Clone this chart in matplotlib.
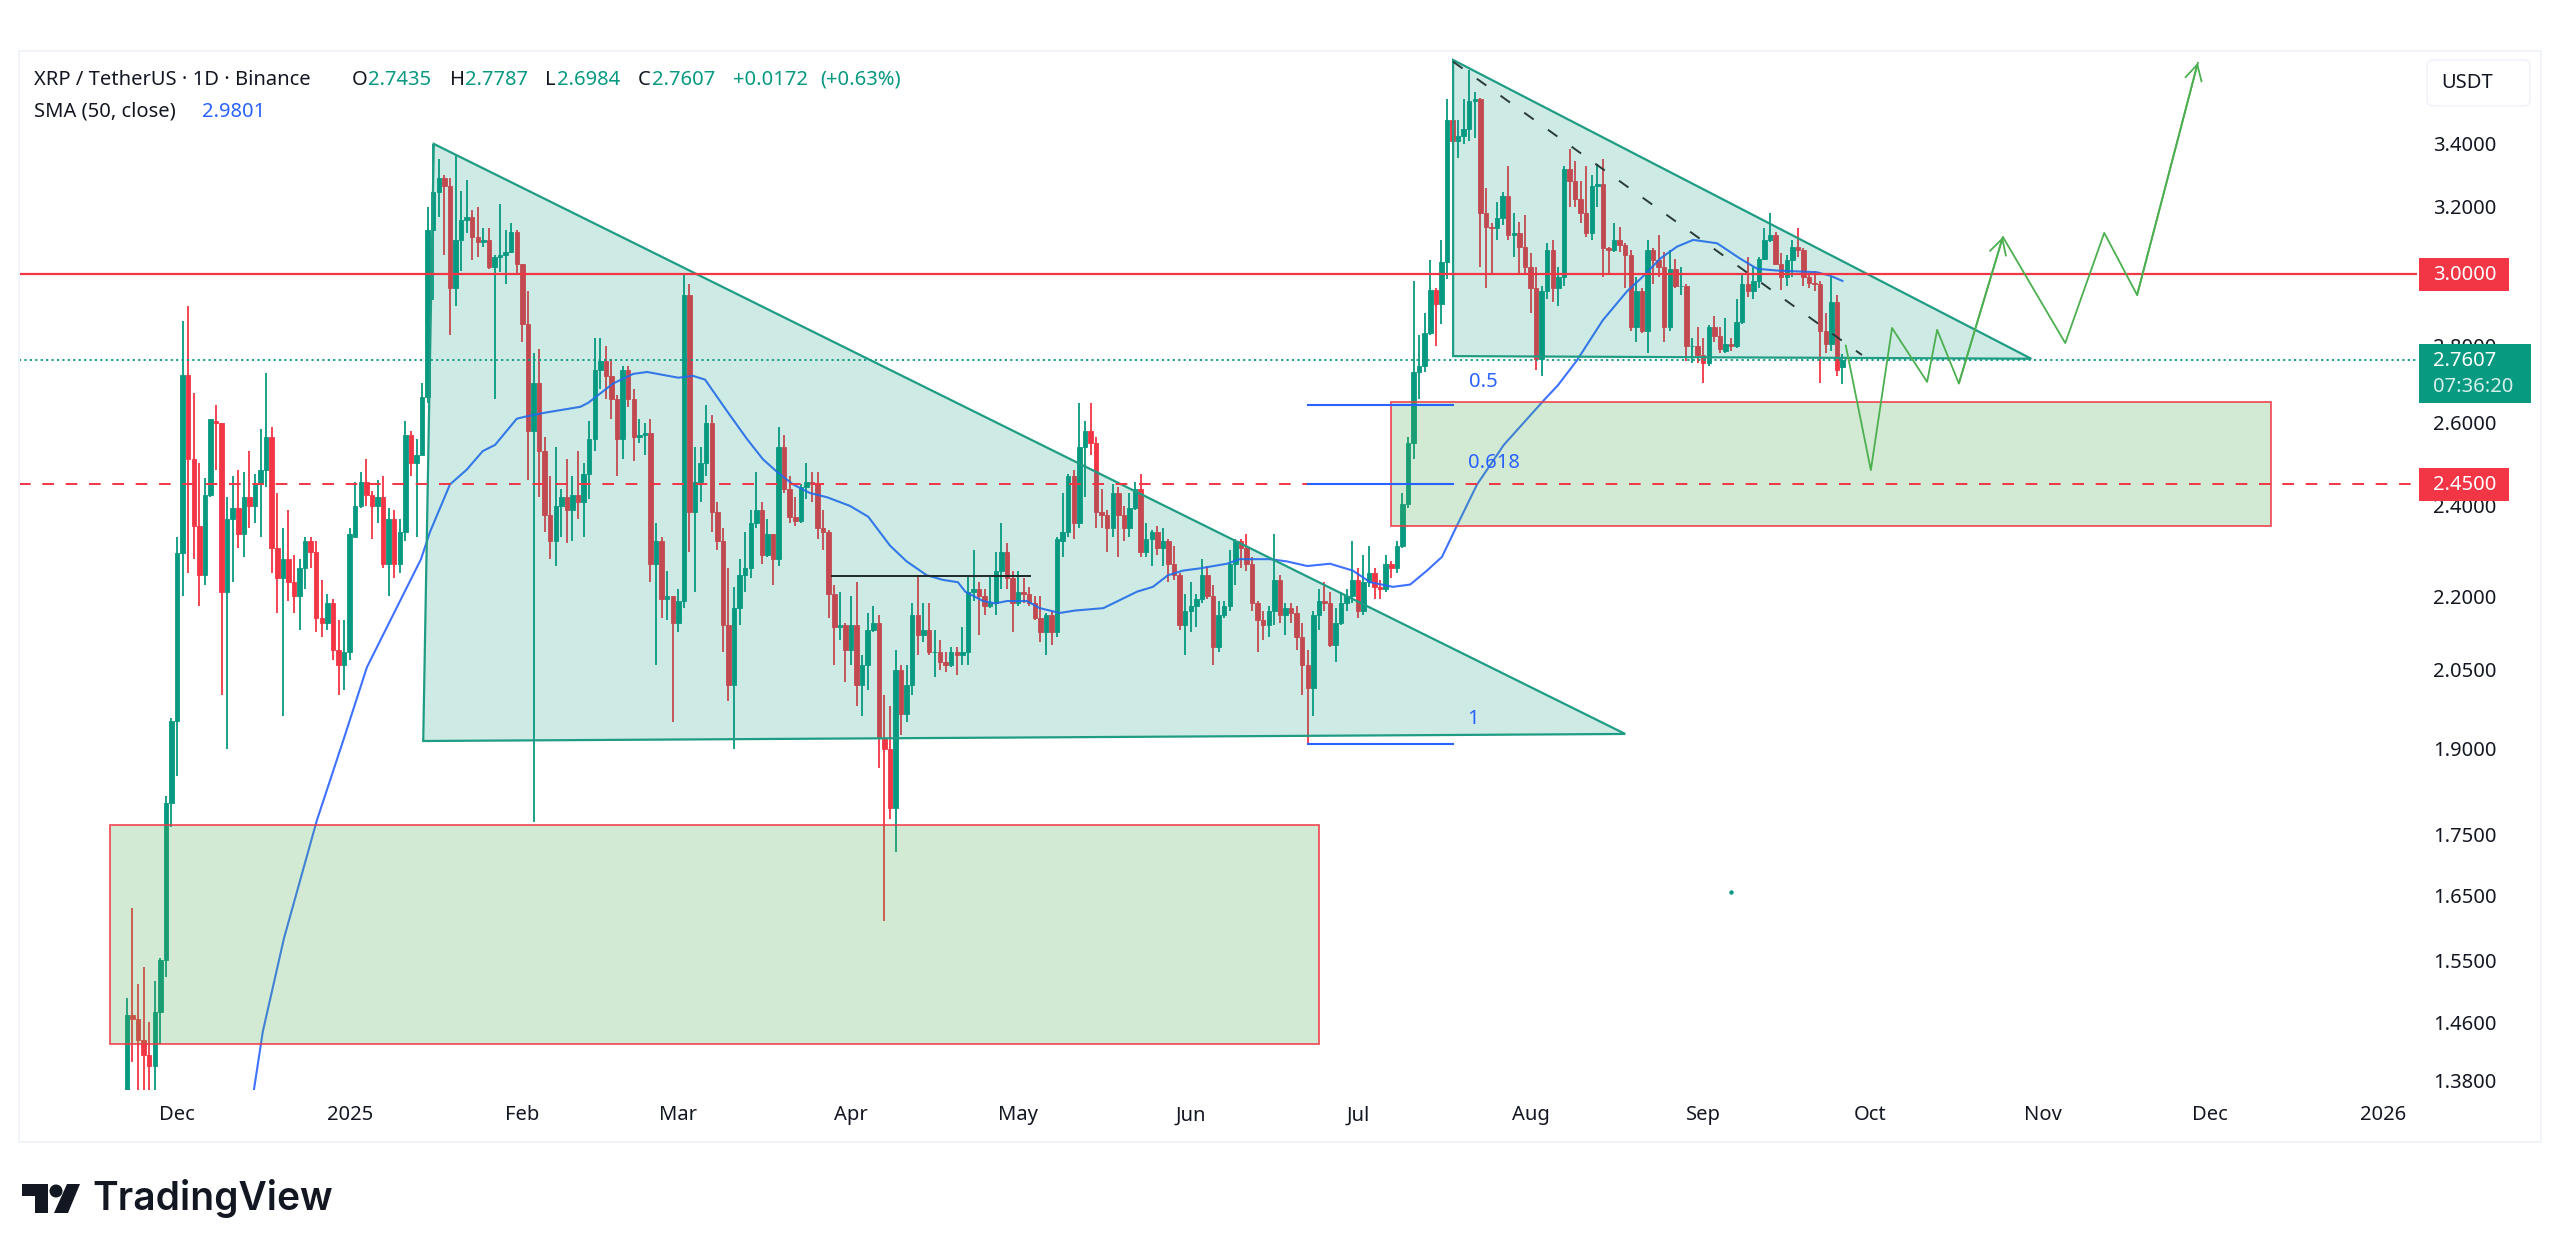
#!/usr/bin/env python3
import numpy as np
import matplotlib
matplotlib.use("Agg")
import matplotlib.pyplot as plt
from matplotlib.patches import Polygon, Rectangle, Circle, FancyBboxPatch
from matplotlib.ticker import FixedLocator, NullLocator, FixedFormatter
from matplotlib.transforms import Affine2D

plt.rcParams['font.family'] = ['Noto Sans', 'DejaVu Sans']

UP = '#089981'
DOWN = '#f23645'
BLUE = '#2962ff'
FORECAST = '#4caf50'

# days are counted from 1 Dec 2024, first candle is day -9
first_day = -9

opens = [
    1.30,1.47,1.465,1.435,1.415,1.40,1.475,1.55,1.803,1.952,
    2.293,2.723,2.51,2.355,2.245,2.426,2.605,2.60,2.21,2.37,
    2.395,2.335,2.42,2.40,2.45,2.485,2.565,2.305,2.24,2.28,
    2.23,2.20,2.26,2.32,2.295,2.155,2.145,2.185,2.09,2.06,
    2.085,2.33,2.40,2.455,2.425,2.40,2.42,2.27,2.37,2.27,
    2.34,2.57,2.50,2.52,2.665,3.13,3.245,3.29,3.265,2.96,
    3.10,3.16,3.17,3.11,3.095,3.10,3.02,3.05,3.055,3.065,
    3.125,3.03,2.86,2.58,2.70,2.53,2.38,2.32,2.40,2.42,
    2.39,2.425,2.41,2.475,2.56,2.735,2.76,2.72,2.66,2.56,
    2.735,2.66,2.565,2.57,2.575,2.27,2.32,2.195,2.20,2.145,
    2.19,2.94,2.385,2.455,2.50,2.60,2.385,2.32,2.14,2.02,
    2.175,2.245,2.26,2.36,2.39,2.29,2.335,2.28,2.54,2.44,
    2.375,2.365,2.445,2.455,2.45,2.35,2.34,2.205,2.135,2.14,
    2.09,2.14,2.02,2.06,2.13,2.145,1.92,1.90,1.795,2.05,
    1.965,2.02,2.16,2.12,2.13,2.085,2.085,2.065,2.06,2.085,
    2.08,2.085,2.21,2.215,2.20,2.18,2.185,2.255,2.295,2.24,
    2.185,2.21,2.205,2.185,2.155,2.125,2.16,2.125,2.32,2.34,
    2.47,2.36,2.54,2.58,2.55,2.385,2.38,2.35,2.43,2.38,
    2.35,2.395,2.44,2.295,2.325,2.34,2.305,2.32,2.27,2.245,
    2.14,2.17,2.18,2.195,2.245,2.20,2.095,2.16,2.18,2.27,
    2.32,2.305,2.27,2.185,2.15,2.14,2.17,2.235,2.16,2.175,
    2.165,2.115,2.06,2.015,2.16,2.19,2.185,2.10,2.145,2.185,
    2.20,2.235,2.17,2.23,2.25,2.22,2.215,2.27,2.26,2.31,
    2.405,2.55,2.73,2.745,2.835,2.955,2.915,3.035,3.48,3.41,
    3.425,3.45,3.545,3.55,3.18,3.14,3.135,3.165,3.235,3.115,
    3.12,3.08,3.02,2.96,2.765,2.95,3.07,2.96,2.99,3.32,
    3.28,3.225,3.18,3.12,3.265,3.27,3.075,3.07,3.10,3.085,
    3.055,2.85,2.95,2.84,3.07,3.04,3.02,2.85,3.015,2.965,
    2.965,2.80,2.80,2.775,2.755,2.85,2.825,2.785,2.805,2.80,
    2.865,2.97,2.95,2.98,3.045,3.10,3.115,3.03,2.99,3.04,
    3.08,3.07,2.99,2.975,2.97,2.84,2.805,2.92,2.7435,
]
highs = [
    1.495,1.63,1.515,1.54,1.46,1.52,1.553,1.815,1.957,2.33,
    2.867,2.91,2.676,2.50,2.465,2.61,2.645,2.60,2.42,2.47,
    2.485,2.48,2.53,2.475,2.585,2.727,2.59,2.43,2.35,2.39,
    2.29,2.28,2.33,2.33,2.32,2.235,2.205,2.195,2.15,2.15,
    2.35,2.455,2.48,2.51,2.435,2.46,2.47,2.395,2.39,2.37,
    2.605,2.58,2.56,2.70,3.20,3.40,3.35,3.30,3.29,3.365,
    3.25,3.285,3.19,3.20,3.135,3.135,3.055,3.21,3.13,3.15,
    3.13,3.03,2.95,2.78,2.79,2.565,2.47,2.54,2.44,2.51,
    2.47,2.53,2.50,2.605,2.82,2.82,2.80,2.765,2.67,2.745,
    2.745,2.685,2.61,2.60,2.61,2.36,2.33,2.255,2.20,2.215,
    3.00,2.97,2.54,2.54,2.645,2.62,2.41,2.35,2.26,2.22,
    2.28,2.34,2.39,2.48,2.41,2.37,2.335,2.59,2.57,2.47,
    2.42,2.45,2.50,2.48,2.48,2.39,2.345,2.225,2.21,2.145,
    2.20,2.23,2.08,2.165,2.18,2.16,2.00,1.98,2.09,2.06,
    2.06,2.185,2.245,2.185,2.185,2.13,2.11,2.085,2.095,2.095,
    2.135,2.245,2.30,2.23,2.215,2.245,2.295,2.36,2.315,2.255,
    2.255,2.24,2.22,2.20,2.20,2.165,2.17,2.33,2.43,2.475,
    2.485,2.65,2.605,2.65,2.565,2.44,2.39,2.45,2.445,2.40,
    2.43,2.455,2.475,2.36,2.345,2.355,2.35,2.325,2.31,2.25,
    2.205,2.23,2.205,2.28,2.265,2.225,2.19,2.19,2.30,2.325,
    2.325,2.335,2.285,2.19,2.17,2.18,2.335,2.245,2.185,2.185,
    2.18,2.145,2.09,2.17,2.215,2.23,2.21,2.175,2.21,2.215,
    2.32,2.26,2.29,2.31,2.26,2.235,2.29,2.275,2.32,2.43,
    2.565,2.98,2.83,2.89,3.04,2.96,3.10,3.55,3.68,3.48,
    3.55,3.65,3.575,3.555,3.26,3.15,3.215,3.245,3.33,3.18,
    3.155,3.175,3.06,3.02,2.965,3.09,3.10,3.02,3.33,3.385,
    3.345,3.28,3.33,3.30,3.335,3.35,3.08,3.15,3.14,3.09,
    3.07,2.99,2.96,3.10,3.075,3.115,3.065,3.07,3.045,3.02,
    2.97,2.82,2.85,2.82,2.855,2.88,2.85,2.875,2.82,2.93,
    3.00,3.05,3.02,3.05,3.135,3.18,3.125,3.06,3.055,3.10,
    3.135,3.075,3.00,3.01,2.98,2.89,2.99,2.94,2.7787,
]
lows = [
    1.28,1.405,1.36,1.36,1.36,1.36,1.43,1.525,1.762,1.85,
    2.20,2.25,2.28,2.18,2.225,2.42,2.485,2.00,1.90,2.23,
    2.305,2.285,2.35,2.36,2.33,2.445,2.25,2.165,1.96,2.19,
    2.165,2.13,2.215,2.26,2.125,2.115,2.13,2.07,2.00,2.01,
    2.07,2.33,2.395,2.40,2.325,2.36,2.26,2.20,2.24,2.25,
    2.32,2.47,2.33,2.52,2.65,2.925,3.17,3.055,2.83,2.91,
    3.01,3.12,3.04,3.05,3.08,3.015,2.66,3.005,2.97,3.06,
    3.00,2.81,2.46,1.77,2.42,2.34,2.28,2.265,2.33,2.315,
    2.32,2.37,2.33,2.415,2.53,2.685,2.66,2.61,2.47,2.51,
    2.64,2.505,2.55,2.52,2.23,2.06,2.155,2.15,1.95,2.125,
    2.175,2.295,2.21,2.41,2.47,2.34,2.30,2.085,1.99,1.90,
    2.14,2.21,2.24,2.35,2.27,2.285,2.225,2.265,2.43,2.36,
    2.355,2.36,2.415,2.41,2.325,2.30,2.155,2.06,2.11,2.025,
    2.06,1.98,1.96,2.01,2.125,1.865,1.61,1.775,1.72,1.925,
    1.95,2.00,2.08,2.105,2.08,2.035,2.05,2.045,2.055,2.04,
    2.06,2.06,2.19,2.12,2.16,2.175,2.16,2.215,2.215,2.125,
    2.18,2.185,2.18,2.15,2.105,2.08,2.10,2.115,2.285,2.33,
    2.325,2.35,2.42,2.52,2.35,2.35,2.295,2.33,2.285,2.32,
    2.33,2.39,2.285,2.285,2.265,2.29,2.265,2.23,2.235,2.13,
    2.08,2.125,2.135,2.185,2.195,2.06,2.085,2.155,2.17,2.225,
    2.26,2.255,2.17,2.085,2.11,2.115,2.14,2.145,2.12,2.145,
    2.09,2.00,1.91,1.96,2.13,2.17,2.095,2.065,2.14,2.17,
    2.185,2.155,2.16,2.22,2.195,2.195,2.21,2.24,2.25,2.305,
    2.395,2.51,2.66,2.73,2.83,2.80,2.86,2.985,3.34,3.355,
    3.40,3.41,3.42,3.02,2.96,3.00,3.10,3.145,3.10,3.05,
    3.00,3.00,2.89,2.735,2.72,2.93,2.92,2.91,2.965,3.20,
    3.20,3.15,3.11,3.10,3.20,2.99,3.00,3.065,3.065,2.96,
    2.84,2.81,2.835,2.78,2.97,2.99,2.81,2.84,2.96,2.94,
    2.76,2.755,2.755,2.70,2.745,2.81,2.78,2.78,2.785,2.795,
    2.86,2.935,2.93,2.96,3.04,3.095,3.025,2.955,2.965,2.99,
    3.05,2.965,2.96,2.95,2.70,2.78,2.785,2.72,2.6984,
]
closes = [
    1.47,1.465,1.435,1.415,1.40,1.475,1.55,1.803,1.952,2.293,
    2.723,2.51,2.355,2.245,2.426,2.608,2.60,2.21,2.37,2.395,
    2.335,2.42,2.40,2.45,2.485,2.565,2.305,2.24,2.28,2.23,
    2.20,2.26,2.32,2.295,2.155,2.145,2.185,2.09,2.06,2.085,
    2.335,2.40,2.455,2.425,2.40,2.42,2.27,2.37,2.27,2.34,
    2.57,2.50,2.52,2.665,3.13,3.245,3.29,3.265,2.96,3.10,
    3.16,3.17,3.11,3.095,3.10,3.02,3.05,3.055,3.065,3.125,
    3.03,2.86,2.58,2.70,2.53,2.38,2.32,2.40,2.42,2.39,
    2.425,2.41,2.475,2.56,2.735,2.76,2.72,2.66,2.56,2.735,
    2.66,2.565,2.57,2.575,2.27,2.32,2.195,2.20,2.145,2.19,
    2.94,2.385,2.455,2.50,2.60,2.385,2.32,2.14,2.02,2.175,
    2.245,2.26,2.36,2.39,2.29,2.335,2.28,2.54,2.44,2.375,
    2.365,2.445,2.455,2.45,2.35,2.34,2.205,2.135,2.14,2.09,
    2.14,2.02,2.06,2.13,2.145,1.92,1.90,1.795,2.05,1.965,
    2.02,2.16,2.12,2.13,2.085,2.085,2.065,2.06,2.085,2.08,
    2.085,2.21,2.215,2.20,2.18,2.185,2.255,2.295,2.24,2.185,
    2.21,2.205,2.185,2.155,2.125,2.16,2.125,2.325,2.34,2.47,
    2.36,2.54,2.58,2.55,2.385,2.38,2.35,2.43,2.38,2.35,
    2.395,2.44,2.295,2.325,2.34,2.305,2.32,2.27,2.245,2.14,
    2.17,2.18,2.195,2.245,2.20,2.095,2.16,2.18,2.27,2.32,
    2.305,2.27,2.185,2.15,2.14,2.17,2.235,2.16,2.175,2.165,
    2.115,2.06,2.015,2.16,2.19,2.185,2.10,2.145,2.185,2.20,
    2.235,2.17,2.23,2.25,2.22,2.215,2.27,2.26,2.31,2.405,
    2.55,2.73,2.745,2.835,2.955,2.915,3.035,3.48,3.41,3.425,
    3.45,3.545,3.55,3.18,3.14,3.135,3.165,3.235,3.115,3.12,
    3.08,3.02,2.96,2.765,2.95,3.07,2.96,2.99,3.32,3.28,
    3.225,3.18,3.12,3.265,3.27,3.075,3.07,3.10,3.085,3.055,
    2.85,2.95,2.84,3.07,3.04,3.02,2.85,3.015,2.965,2.965,
    2.80,2.80,2.775,2.755,2.85,2.825,2.79,2.805,2.80,2.865,
    2.97,2.95,2.98,3.045,3.10,3.115,3.03,2.99,3.04,3.08,
    3.07,2.99,2.975,2.97,2.84,2.805,2.92,2.735,2.7607,
]

sma_days = [13.8,15.4,19.2,25.1,30,34.1,37,43.8,45.4,49,52,54.9,57.1,61,62.5,66,72.4,73.8,
            78.3,81.9,84.4,90,92.6,94.8,98.7,102.3,105.2,107.7,110.6,113.6,116.7,120.8,
            124.1,128,131,134.6,137.5,140.2,141.5,144.7,146.9,149,152.6,154.9,158.5,161.2,
            166.3,172.4,175.2,177.9,180.6,183.7,188.5,190.8,196.2,199.3,202.9,207,211.1,
            214.2,218.3,221.4,224.4,227.1,229.8,233.4,238.2,245.6,247.9,251.3,256,260.3,
            263,266.3,269.3,272.2,276.5,280.6,283.7,287.2,294.4,296.8,299]
sma_vals = [1.368,1.447,1.583,1.773,1.92,2.055,2.12,2.28,2.34,2.45,2.485,2.53,2.545,2.61,2.615,
            2.625,2.64,2.65,2.70,2.725,2.73,2.715,2.72,2.71,2.63,2.56,2.51,2.48,2.45,2.43,
            2.42,2.40,2.375,2.31,2.275,2.245,2.235,2.23,2.21,2.19,2.185,2.19,2.19,2.175,
            2.165,2.17,2.175,2.21,2.22,2.245,2.255,2.26,2.27,2.28,2.28,2.275,2.265,2.27,
            2.255,2.23,2.22,2.225,2.255,2.285,2.355,2.45,2.545,2.66,2.695,2.76,2.87,2.95,
            2.99,3.045,3.08,3.10,3.09,3.045,3.015,3.01,3.005,2.995,2.98]

big_tri_days = [46.1, 44.2, 260]
big_tri_vals = [3.40, 1.914, 1.927]
small_tri_days = [229.1, 229.1, 332.9]
small_tri_vals = [3.686, 2.772, 2.765]
dash_days = [229.1, 302.5]
dash_vals = [3.68, 2.775]

forecast_days = [299.6,304.1,307.9,314.2,316,319.9,327.8,339,346,351.9,362.8]
forecast_vals = [2.80,2.484,2.848,2.704,2.843,2.70,3.109,2.807,3.121,2.94,3.676]

zone_low = (-12, 205, 1.43, 1.765)
zone_high = (218, 376, 2.354, 2.652)

fib_days = (203, 229.1)
fib_levels = [2.645, 2.45, 1.908]
fib_names = ['0.5', '0.618', '1']
fib_text_vals = [2.705, 2.50, 1.955]

price_ticks = [3.4, 3.2, 2.8, 2.6, 2.4, 2.2, 2.05, 1.9, 1.75, 1.65, 1.55, 1.46, 1.38]
month_days = [0, 31, 62, 90, 121, 151, 182, 212, 243, 274, 304, 335, 365, 396]
month_names = ['Dec', '2025', 'Feb', 'Mar', 'Apr', 'May', 'Jun', 'Jul', 'Aug', 'Sep', 'Oct', 'Nov', 'Dec', '2026']

W, H = 2560, 1256
fig = plt.figure(figsize=(W / 100, H / 100), dpi=100, facecolor='white')
# pixel coordinates of the image, for things that are not data
px = Affine2D().scale(1 / W, -1 / H).translate(0, 1) + fig.transFigure

ax = fig.add_axes([19 / W, 1 - 1090 / H, (2417 - 19) / W, (1090 - 51) / H])
ax.set_yscale('log')
ax.set_xlim(-28.37, 402.15)
ax.set_ylim(1.368, 3.718)
for s in ax.spines.values():
    s.set_visible(False)

days = np.arange(first_day, first_day + len(opens))
o = np.array(opens)
c = np.array(closes)
colors = [UP if b >= a else DOWN for a, b in zip(o, c)]
ax.vlines(days, lows, highs, colors=colors, linewidth=1.3, zorder=2)
ax.bar(days, np.abs(c - o), bottom=np.minimum(o, c), width=0.8, color=colors,
       edgecolor=colors, linewidth=0.6, zorder=3)

ax.plot(sma_days, sma_vals, color=BLUE, lw=1.5, alpha=0.9, zorder=4)

# zones and triangles go over the candles like in the original
for x0, x1, y0, y1 in [zone_low, zone_high]:
    ax.add_patch(Rectangle((x0, y0), x1 - x0, y1 - y0, facecolor=FORECAST, alpha=0.25, edgecolor='none', zorder=5))
    ax.add_patch(Rectangle((x0, y0), x1 - x0, y1 - y0, fill=False, edgecolor=DOWN, lw=1.3, alpha=0.85, zorder=5))
for xs, ys in [(big_tri_days, big_tri_vals), (small_tri_days, small_tri_vals)]:
    pts = list(zip(xs, ys))
    ax.add_patch(Polygon(pts, closed=True, facecolor=UP, alpha=0.2, edgecolor='none', zorder=5))
    ax.add_patch(Polygon(pts, closed=True, fill=False, edgecolor='#1f9c84', lw=1.6, zorder=5))

ax.plot(dash_days, dash_vals, color='#2a3a38', lw=1.4, dashes=(6, 9), zorder=6)
ax.plot([117.6, 153.1], [2.243, 2.243], color='#1c2a28', lw=1.4, zorder=6)

ax.axhline(3.0, color=DOWN, lw=1.6, zorder=6)
ax.axhline(2.45, color=DOWN, lw=1.4, dashes=(6, 6), zorder=6)
ax.axhline(2.7607, color=UP, lw=1.3, dashes=(1.2, 1.8), zorder=6)

for lev, name, tv in zip(fib_levels, fib_names, fib_text_vals):
    ax.plot(fib_days, [lev, lev], color=BLUE, lw=1.5, zorder=6)
for name, tv, xp in zip(fib_names, fib_text_vals, [234.5, 236.5, 232.7]):
    ax.text(xp, tv, name, color=BLUE, fontsize=14.5, ha='center', va='center', zorder=7)

ax.plot(forecast_days, forecast_vals, color=FORECAST, lw=1.3, zorder=7)
for i in [6, 10]:
    ax.annotate('', xy=(forecast_days[i], forecast_vals[i]), xytext=(forecast_days[i - 1], forecast_vals[i - 1]),
                arrowprops=dict(arrowstyle='->,head_length=0.55,head_width=0.3', color=FORECAST, lw=1.3,
                                shrinkA=0, shrinkB=0, mutation_scale=20), zorder=7)
ax.plot([279], [1.655], marker='o', ms=2.2, color=UP, zorder=7)

# axes
ax.yaxis.tick_right()
ax.yaxis.set_major_locator(FixedLocator(price_ticks))
ax.yaxis.set_major_formatter(FixedFormatter(['%.4f' % p for p in price_ticks]))
ax.yaxis.set_minor_locator(NullLocator())
ax.tick_params(axis='y', length=0, pad=11.5, labelsize=14.5, labelcolor='#131722')
ax.set_xticks(month_days)
ax.set_xticklabels(month_names)
ax.tick_params(axis='x', length=0, pad=11, labelsize=14.5, labelcolor='#131722')
for lab in ax.get_xticklabels():
    if lab.get_text() in ('2025', '2026'):
        lab.set_fontweight('bold')

# pane border
fig.add_artist(Rectangle((19, 51), 2541 - 19, 1142 - 51, transform=px, fill=False, edgecolor='#f0f3fa', lw=1.4))

# price labels on the right
def price_box(y0, y1, x1, color, lines):
    fig.add_artist(Rectangle((2419, y0), x1 - 2419, y1 - y0, transform=px, facecolor=color, edgecolor='none', zorder=3))
    for y, txt, col in lines:
        fig.text(2433, y, txt, transform=px, color=col, fontsize=14.5, va='center', ha='left', zorder=4)

price_box(258, 291, 2509, DOWN, [(275, '3.0000', 'white')])
price_box(468, 501, 2509, DOWN, [(485, '2.4500', 'white')])
price_box(344, 403, 2531, UP, [(361, '2.7607', 'white'), (387, '07:36:20', '#d6f0ea')])

fig.add_artist(FancyBboxPatch((2427, 60), 103, 46, boxstyle='round,pad=0,rounding_size=6', transform=px,
                              facecolor='white', edgecolor='#f0f3fa', lw=1.2))
fig.text(2467, 83, 'USDT', transform=px, color='#131722', fontsize=14.5, ha='center', va='center')

# header
def head(x, y, txt, col):
    fig.text(x, y, txt, transform=px, color=col, fontsize=14.5, va='center', ha='left')

TXT = '#131722'
head(34, 80, 'XRP / TetherUS · 1D · Binance', TXT)
for x, t in [(352, 'O'), (450, 'H'), (545, 'L'), (638, 'C')]:
    head(x, 80, t, TXT)
for x, t in [(368, '2.7435'), (465, '2.7787'), (557, '2.6984'), (652, '2.7607'), (733, '+0.0172'), (820, '(+0.63%)')]:
    head(x, 80, t, UP)
head(34, 112, 'SMA (50, close)', TXT)
head(202, 112, '2.9801', BLUE)

# logo
logo = '#131722'
fig.add_artist(Polygon([(22, 1184), (48, 1184), (48, 1213), (35, 1213), (35, 1196), (22, 1196)], transform=px, facecolor=logo, edgecolor='none'))
fig.add_artist(Circle((56, 1191), 6.5, transform=px, facecolor=logo, edgecolor='none'))
fig.add_artist(Polygon([(67, 1184), (80, 1184), (68, 1213), (54, 1213)], transform=px, facecolor=logo, edgecolor='none'))
fig.text(92, 1199, 'TradingView', transform=px, color=logo, fontsize=28, fontweight='semibold', family='Inter', va='center', ha='left')

fig.savefig('out.png', dpi=100, facecolor='white')
